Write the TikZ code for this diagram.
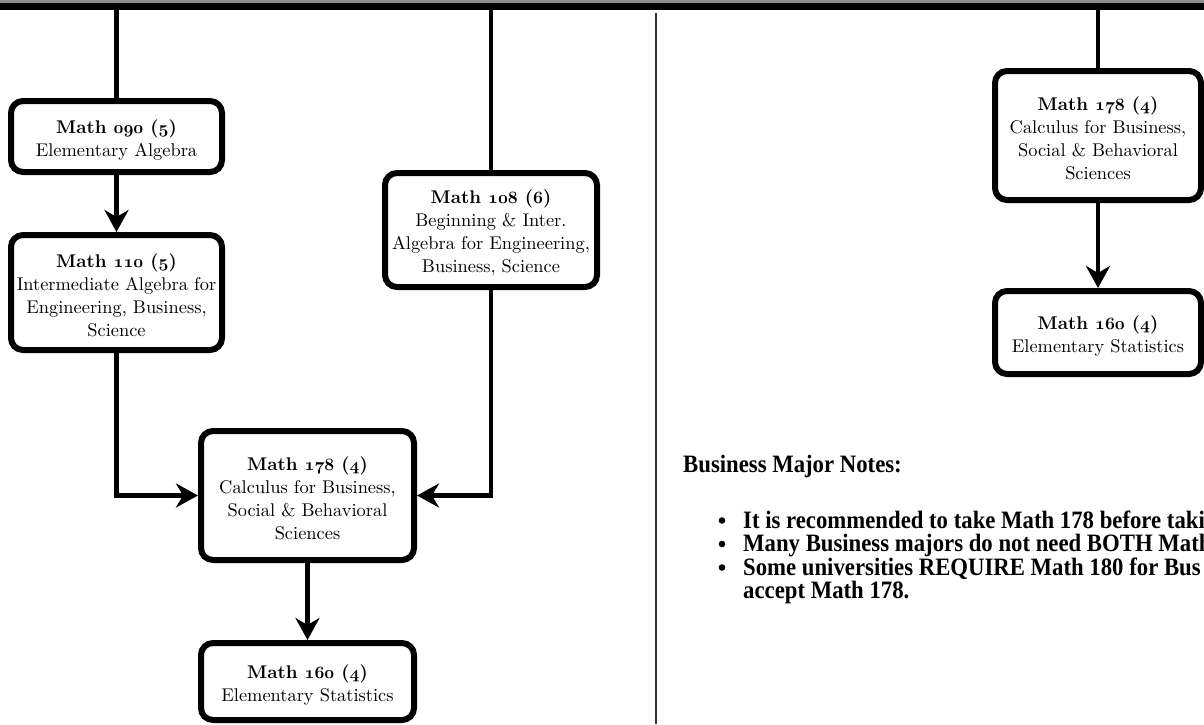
\documentclass[tikz,border=0pt]{standalone}
\usepackage{fontspec}
\newfontfamily\notesfont[FakeStretch=0.91]{Liberation Serif}
\newfontfamily\boxrm{lmroman10-regular.otf}[BoldFont=lmroman10-bold.otf]
\usetikzlibrary{arrows.meta}
\newcommand\boxfont{\boxrm\fontsize{18.4}{23}\selectfont}
\newcommand\bonum[1]{{\usefont{OML}{cmm}{b}{it}#1}}
\newcommand\ttl[1]{\rule{0pt}{20pt}\textbf{#1}}
\begin{document}
\begin{tikzpicture}[x=1pt,y=-1pt,
  box/.style={draw=black, fill=white, line width=6pt, rounded corners=12pt,
    align=center, inner sep=0pt, font=\boxfont},
  conn/.style={line width=4.5pt, draw=black},
  arr/.style={conn, -{Stealth[length=22pt,width=24pt,inset=7pt]}},
  notes/.style={font=\notesfont\bfseries\fontsize{25}{28}\selectfont, inner sep=0pt, anchor=base west},
  bullet/.style={fill=black}
]
\useasboundingbox (0,0) rectangle (1204,724);
\clip (0,0) rectangle (1204,724);
\fill[white] (0,0) rectangle (1204,724);
% top band
\fill[black!45] (0,0) rectangle (1204,3);
\fill[black] (0,3) rectangle (1204,9.5);
\coordinate (top) at (0,6);
% divider
\draw[line width=2pt, black!80] (655.5,13) -- (655.5,724);

% left column
\node[box, minimum width=211pt, minimum height=71pt] (m090) at (116.5,136.5)
  {\ttl{Math \bonum{090} (\bonum{5})}\\Elementary Algebra};
\node[box, minimum width=211pt, minimum height=115pt] (m110) at (116.5,292.5)
  {\ttl{Math \bonum{110} (\bonum{5})}\\Intermediate Algebra for\\Engineering, Business,\\Science};
\node[box, minimum width=212pt, minimum height=114pt] (m108) at (491,230)
  {\ttl{Math \bonum{108} (\bonum{6})}\\Beginning \& Inter.\\Algebra for Engineering,\\Business, Science};
\node[box, minimum width=213pt, minimum height=129pt] (m178) at (307.5,495.5)
  {\ttl{Math \bonum{178} (\bonum{4})}\\Calculus for Business,\\Social \& Behavioral\\Sciences};
\node[box, minimum width=213pt, minimum height=77pt] (m160) at (307.5,681.5)
  {\ttl{Math \bonum{160} (\bonum{4})}\\Elementary Statistics};

% right column
\node[box, minimum width=206pt, minimum height=129pt] (r178) at (1098,135.5)
  {\ttl{Math \bonum{178} (\bonum{4})}\\Calculus for Business,\\Social \& Behavioral\\Sciences};
\node[box, minimum width=206pt, minimum height=83pt] (r160) at (1098,332.5)
  {\ttl{Math \bonum{160} (\bonum{4})}\\Elementary Statistics};

% connectors
\draw[conn] (m090.north |- top) -- (m090.north);
\draw[conn] (m108.north |- top) -- (m108.north);
\draw[conn] (r178.north |- top) -- (r178.north);
\draw[arr] (m090.south) -- (m110.north);
\draw[arr] (m110.south) |- (m178.west);
\draw[arr] (m108.south) |- (m178.east);
\draw[arr] (m178.south) -- (m160.north);
\draw[arr] (r178.south) -- (r160.north);

% notes
\node[notes] (hdr) at (683,472) {Business Major Notes:};
\node[notes] (n1) at (743,528) {It is recommended to take Math 178 before taki};
\node[notes] (n2) at (743,551.5) {Many Business majors do not need BOTH Math};
\node[notes] (n3) at (743,575) {Some universities REQUIRE Math 180 for Bus};
\node[notes] (n4) at (743,598.5) {accept Math 178.};
\fill[bullet] (722,520.5) circle (3.3pt);
\fill[bullet] (722,544) circle (3.3pt);
\fill[bullet] (722,567.5) circle (3.3pt);
\end{tikzpicture}
\end{document}
